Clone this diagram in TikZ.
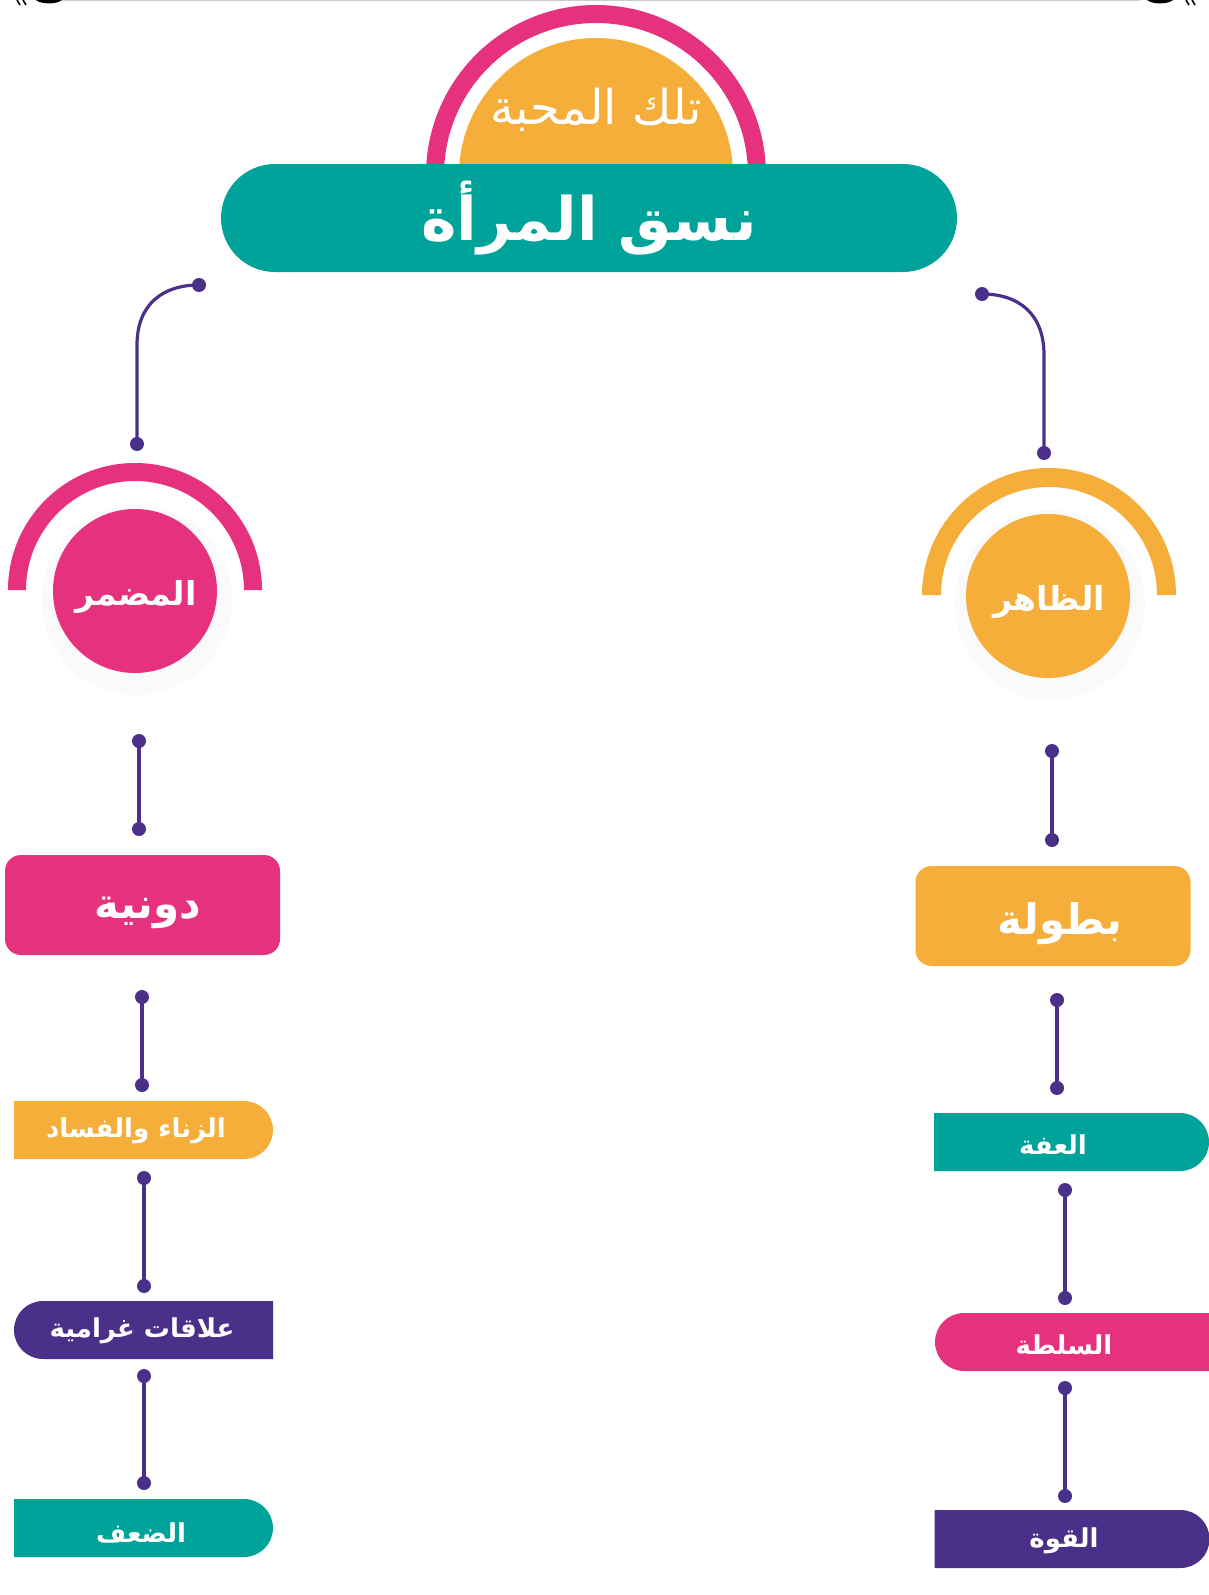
\documentclass[tikz,border=0pt]{standalone}
\usepackage{fontspec}
\usetikzlibrary{shapes.misc}
\newfontfamily\ar[Script=Arabic]{DejaVu Sans}
\TeXXeTstate=1
\definecolor{cpink}{HTML}{E6317F}
\definecolor{corange}{HTML}{F6AE3B}
\definecolor{cteal}{HTML}{00A39A}
\definecolor{cpurple}{HTML}{4A3088}
\tikzset{
  conn/.style={cpurple, line width=1.6pt},
  dotfill/.style={fill=cpurple},
  lbl/.style={text=white, font=\ar\bfseries\fontsize{13}{16}\selectfont, inner sep=0},
  bigbox/.style={rectangle, rounded corners=8pt, minimum width=137.5pt, minimum height=50pt, inner sep=0},
  pillR/.style={rounded rectangle, rounded rectangle left arc=none, minimum width=129.5pt, minimum height=29pt, inner sep=0},
  pillL/.style={rounded rectangle, rounded rectangle right arc=none, minimum width=129.5pt, minimum height=29pt, inner sep=0},
  bubble/.style={circle, minimum size=82pt, inner sep=0},
  frag/.style={black, line width=0.8pt},
}
\begin{document}
\begin{tikzpicture}[x=0.5pt,y=-0.5pt]
\useasboundingbox (0,0) rectangle (1209,1595);
\fill[white] (0,0) rectangle (1209,1595);

% ---- cropped fragments at the top edge ----
\draw[black!20, line width=0.5pt] (60,0.6) -- (1140,0.6);
\draw[frag] (17,0) -- (20,5) (23,0) -- (26,5);
\fill[black] (36,0) .. controls (40,4) and (56,5) .. (62,0) -- cycle;
\fill[black] (1147,0) .. controls (1153,5) and (1169,4) .. (1173,0) -- cycle;
\draw[frag] (1186,0) -- (1189,5) (1192,0) -- (1195,5);

% ---- top title ----
\begin{scope}
\clip (0,0) rectangle (1209,165);
\fill[cpink, even odd rule] (596,175) circle (170) (596,175) circle (152);
\fill[corange] (596,175) circle (137);
\end{scope}
\node[text=white, font=\ar\fontsize{24}{28}\selectfont] (mahabba) at (596,110) {\beginR تلك المحبة\endR};
\node[rounded rectangle, fill=cteal, minimum width=368pt, minimum height=54pt, inner sep=0,
      text=white, font=\ar\bfseries\fontsize{30}{36}\selectfont] (title) at (589,218) {\beginR نسق المرأة\endR};

% ---- circles ----
\fill[black!2] (137,600) circle (95);
\fill[black!2] (1050,605) circle (95);
\fill[cpink] (8,590) arc[start angle=180,end angle=360,radius=127] -- (244,590) arc[start angle=0,end angle=-180,radius=109] -- cycle;
\fill[corange] (922,595) arc[start angle=180,end angle=360,radius=127] -- (1157,595) arc[start angle=0,end angle=-180,radius=108] -- cycle;
\node[bubble, fill=cpink] (mudmar) at (135,591) {};
\node[bubble, fill=corange] (zahir) at (1048,596) {};
\node[lbl, font=\ar\bfseries\fontsize{16.5}{20}\selectfont] (mudmarT) at (136,597) {\beginR المضمر\endR};
\node[lbl, font=\ar\bfseries\fontsize{16.5}{20}\selectfont] (zahirT) at (1049,602) {\beginR الظاهر\endR};

% ---- boxes ----
\node[bigbox, fill=cpink] (duniya) at (142.5,905) {};
\node[lbl, font=\ar\bfseries\fontsize{21}{26}\selectfont] (duniyaT) at (148,913) {\beginR دونية\endR};
\node[bigbox, fill=corange] (butula) at (1053,916) {};
\node[lbl, font=\ar\bfseries\fontsize{21}{26}\selectfont] (butulaT) at (1060,924) {\beginR بطولة\endR};

\node[pillR, fill=corange] (zina) at (143.5,1130) {};
\node[lbl] (zinaT) at (136,1131) {\beginR الزناء والفساد\endR};
\node[pillL, fill=cpurple] (alaqat) at (143.5,1330) {};
\node[lbl] (alaqatT) at (142,1331) {\beginR علاقات غرامية\endR};
\node[pillR, fill=cteal] (duf) at (143.5,1528) {};
\node[lbl] (dufT) at (141,1533) {\beginR الضعف\endR};

\node[pillR, fill=cteal, minimum width=137.5pt] (iffa) at (1071.5,1142) {};
\node[lbl] (iffaT) at (1053,1145) {\beginR العفة\endR};
\node[pillL, fill=cpink, minimum width=140pt] (sulta) at (1075,1342) {};
\node[lbl] (sultaT) at (1064,1345) {\beginR السلطة\endR};
\node[pillR, fill=cpurple, minimum width=137.5pt] (quwwa) at (1072,1539) {};
\node[lbl] (quwwaT) at (1064,1541) {\beginR القوة\endR};

% ---- connectors ----
\coordinate (l0a) at (199,285); \coordinate (l0m) at (137,345); \coordinate (l0b) at (137,444);
\coordinate (r0a) at (982,294); \coordinate (r0m) at (1044,355); \coordinate (r0b) at (1044,453);
\draw[conn] (l0a) .. controls (162,285) and (137,305) .. (l0m) -- (l0b);
\draw[conn] (r0a) .. controls (1019,294) and (1044,314) .. (r0m) -- (r0b);
\fill[dotfill] (l0a) circle (7) (l0b) circle (7) (r0a) circle (7) (r0b) circle (7);

\foreach \n/\x/\ya/\yb in {l1/139/741/829, r1/1052/751/840, l2/142/997/1085, r2/1057/1000/1088,
  l3/144/1178/1286, r3/1065/1190/1298, l4/144/1376/1483, r4/1065/1388/1496}{
  \coordinate (\n a) at (\x,\ya); \coordinate (\n b) at (\x,\yb);
  \draw[conn] (\n a) -- (\n b);
  \fill[dotfill] (\n a) circle (7) (\n b) circle (7);
}
\end{tikzpicture}
\end{document}
